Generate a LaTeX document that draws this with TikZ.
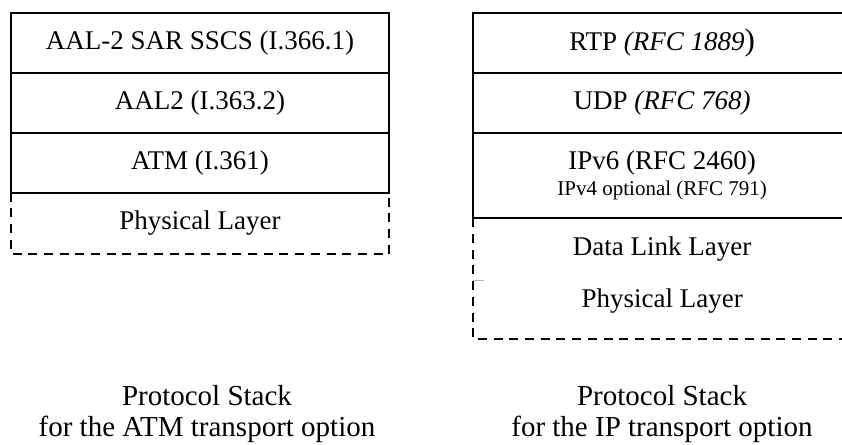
\documentclass[tikz,border=0pt]{standalone}
\usepackage{fontspec}
\setmainfont{Liberation Serif}
\usetikzlibrary{positioning}
\tikzstyle{layer}=[draw,line width=2.2pt,outer sep=0pt,inner sep=0pt,align=center,font=\fontsize{27}{30}\selectfont]
\tikzstyle{atmlayer}=[layer,minimum width=378pt,minimum height=60pt]
\tikzstyle{iplayer}=[layer,minimum width=377.7pt]
\tikzstyle{open}=[draw=none]
\tikzstyle{cut}=[line width=2.2pt,dash pattern=on 9pt off 6.7pt]
\tikzstyle{caption}=[inner sep=0pt,align=center,font=\fontsize{29}{31.5}\selectfont]
\newcommand\opt{\fontsize{21}{24}\selectfont}

\begin{document}
\begin{tikzpicture}[x=1pt,y=-1pt]
	\clip (0,0) rectangle (842,444);
	% ATM stack
	\node[atmlayer,anchor=north] (sar) at (200,12.7) {AAL-2 SAR SSCS (I.366.1)};
	\node[atmlayer,below=0pt of sar] (aal) {AAL2 (I.363.2)};
	\node[atmlayer,below=0pt of aal] (atm) {ATM (I.361)};
	\node[atmlayer,open,minimum height=61.3pt,below=0pt of atm] (lphy) {Physical Layer};
	\draw[cut] (lphy.north west) -- (lphy.south west) -- (lphy.south east) -- (lphy.north east);
	% IP stack
	\node[iplayer,minimum height=60.6pt,anchor=north] (rtp) at (662.15,12.7) {RTP \textit{(RFC 1889}{\fontsize{31}{31}\selectfont)}};
	\node[iplayer,minimum height=59.4pt,below=0pt of rtp] (udp) {UDP \textit{(RFC 768)}};
	\node[iplayer,minimum height=85.6pt,below=0pt of udp] (ip) {IPv6 (RFC 2460)\\[-4pt]{\opt IPv4 optional (RFC 791)}};
	\node[iplayer,open,minimum height=61.7pt,below=0pt of ip] (link) {Data Link Layer};
	\node[iplayer,open,minimum height=43pt,below=0pt of link] (rphy) {Physical Layer};
	\coordinate (rbot) at (473.3,339.3);
	\draw[cut] (link.north west) -- (rbot) -- ++(380,0);
	\draw[gray!60,line width=0.8pt] (link.south west) -- ++(11,0);
	% captions
	\node[caption] (atmcap) at (207,414) {Protocol Stack\\for the ATM transport option};
	\node[caption] (ipcap) at (662,414) {Protocol Stack\\for the IP transport option};
\end{tikzpicture}
\end{document}
